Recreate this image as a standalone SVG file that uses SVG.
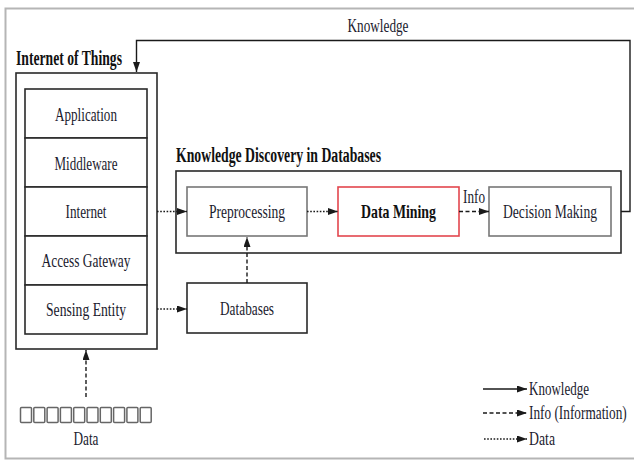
<svg xmlns="http://www.w3.org/2000/svg" width="634" height="462" viewBox="0 0 634 462">
<defs>
<marker id="ah" viewBox="0 0 10 8" refX="10" refY="4" markerWidth="10" markerHeight="7" markerUnits="userSpaceOnUse" orient="auto" preserveAspectRatio="none">
<path d="M0,0 L10,4 L0,8 Z" fill="#1a1a1a"/>
</marker>
<style>
.t{font-family:"Liberation Serif","Times New Roman",serif;font-size:19px;fill:#1b1b2e;text-anchor:middle}
.tl{font-family:"Liberation Serif","Times New Roman",serif;font-size:19px;fill:#1b1b2e}
.b{font-family:"Liberation Serif","Times New Roman",serif;font-size:20px;font-weight:bold;fill:#111}
.bx{fill:#fff;stroke:#2a2a2a;stroke-width:1.6}
.gx{fill:#fff;stroke:#777;stroke-width:1.6}
.c{fill:none;stroke:#1a1a1a;stroke-width:1.4}
.dot{stroke-dasharray:1.6 1.6}
.dash{stroke-dasharray:4 2.5}
.sq{fill:#fff;stroke:#666;stroke-width:1.5}
</style>
</defs>
<path d="M640,8.5 H5.5 V458.5 H640" fill="none" stroke="#b5b5b5" stroke-width="2"/>

<g id="iot">
<rect class="bx" x="16" y="73" width="141" height="276" stroke-width="2"/>
<text class="b" x="16" y="65" textLength="106" lengthAdjust="spacingAndGlyphs">Internet of Things</text>
</g>
<g id="application"><rect class="bx" x="25" y="89" width="122" height="49"/><text class="t" x="86" y="121" textLength="62" lengthAdjust="spacingAndGlyphs">Application</text></g>
<g id="middleware"><rect class="bx" x="25" y="138" width="122" height="49"/><text class="t" x="86" y="170" textLength="63" lengthAdjust="spacingAndGlyphs">Middleware</text></g>
<g id="internet"><rect class="bx" x="25" y="187" width="122" height="49"/><text class="t" x="86" y="218" textLength="41" lengthAdjust="spacingAndGlyphs">Internet</text></g>
<g id="gateway"><rect class="bx" x="25" y="236" width="122" height="49"/><text class="t" x="86" y="267" textLength="89" lengthAdjust="spacingAndGlyphs">Access Gateway</text></g>
<g id="sensing"><rect class="bx" x="25" y="285" width="122" height="49"/><text class="t" x="86" y="316" textLength="80" lengthAdjust="spacingAndGlyphs">Sensing Entity</text></g>

<g id="kdd">
<rect class="bx" x="176" y="171" width="445" height="82"/>
<text class="b" x="176" y="162" textLength="205" lengthAdjust="spacingAndGlyphs">Knowledge Discovery in Databases</text>
</g>
<g id="preprocessing"><rect class="gx" x="187" y="187" width="120" height="49"/><text class="t" x="247" y="218" textLength="76" lengthAdjust="spacingAndGlyphs">Preprocessing</text></g>
<g id="datamining"><rect x="338" y="187" width="121" height="49" fill="#fff" stroke="#e3464e" stroke-width="1.6"/><text class="t" x="398.5" y="218" font-weight="bold" textLength="75" lengthAdjust="spacingAndGlyphs" style="fill:#111">Data Mining</text></g>
<g id="decision"><rect class="gx" x="489" y="187" width="122" height="49"/><text class="t" x="550" y="218" textLength="94" lengthAdjust="spacingAndGlyphs">Decision Making</text></g>
<g id="databases"><rect class="bx" x="187" y="283" width="120" height="50"/><text class="t" x="247" y="315" textLength="54" lengthAdjust="spacingAndGlyphs">Databases</text></g>

<g id="data">
<rect class="sq" x="20.5" y="407.5" width="11" height="15" rx="1"/>
<rect class="sq" x="33.8" y="407.5" width="11" height="15" rx="1"/>
<rect class="sq" x="47.1" y="407.5" width="11" height="15" rx="1"/>
<rect class="sq" x="60.4" y="407.5" width="11" height="15" rx="1"/>
<rect class="sq" x="73.7" y="407.5" width="11" height="15" rx="1"/>
<rect class="sq" x="87" y="407.5" width="11" height="15" rx="1"/>
<rect class="sq" x="100.3" y="407.5" width="11" height="15" rx="1"/>
<rect class="sq" x="113.6" y="407.5" width="11" height="15" rx="1"/>
<rect class="sq" x="126.9" y="407.5" width="11" height="15" rx="1"/>
<rect class="sq" x="140.2" y="407.5" width="11" height="15" rx="1"/>
<text class="t" x="86" y="445" textLength="25" lengthAdjust="spacingAndGlyphs">Data</text>
</g>

<g id="connectors">
<line class="c dot" x1="157" y1="211.5" x2="187" y2="211.5" marker-end="url(#ah)"/>
<line class="c dot" x1="307" y1="211.5" x2="338" y2="211.5" marker-end="url(#ah)"/>
<line class="c dash" x1="459" y1="211.5" x2="489" y2="211.5" marker-end="url(#ah)"/>
<text class="t" x="474" y="203" textLength="22" lengthAdjust="spacingAndGlyphs">Info</text>
<line class="c dot" x1="157" y1="309" x2="187" y2="309" marker-end="url(#ah)"/>
<line class="c dash" x1="247" y1="283" x2="247" y2="237" marker-end="url(#ah)"/>
<line class="c dash" x1="86" y1="397" x2="86" y2="350" marker-end="url(#ah)"/>
<path class="c" d="M621,211.5 H630 V40.5 H136.5 V72" marker-end="url(#ah)"/>
<text class="t" x="378" y="32" textLength="61" lengthAdjust="spacingAndGlyphs">Knowledge</text>
</g>

<g id="legend">
<line class="c" x1="483" y1="389" x2="527" y2="389" marker-end="url(#ah)"/>
<text class="tl" x="529" y="395" textLength="60" lengthAdjust="spacingAndGlyphs">Knowledge</text>
<line class="c dash" x1="483" y1="413" x2="527" y2="413" marker-end="url(#ah)"/>
<text class="tl" transform="translate(529,419) scale(0.7,1)" x="0" y="0">Info (Information)</text>
<line class="c dot" x1="484" y1="439" x2="527" y2="439" marker-end="url(#ah)"/>
<text class="tl" x="529" y="445" textLength="26" lengthAdjust="spacingAndGlyphs">Data</text>
</g>
</svg>
